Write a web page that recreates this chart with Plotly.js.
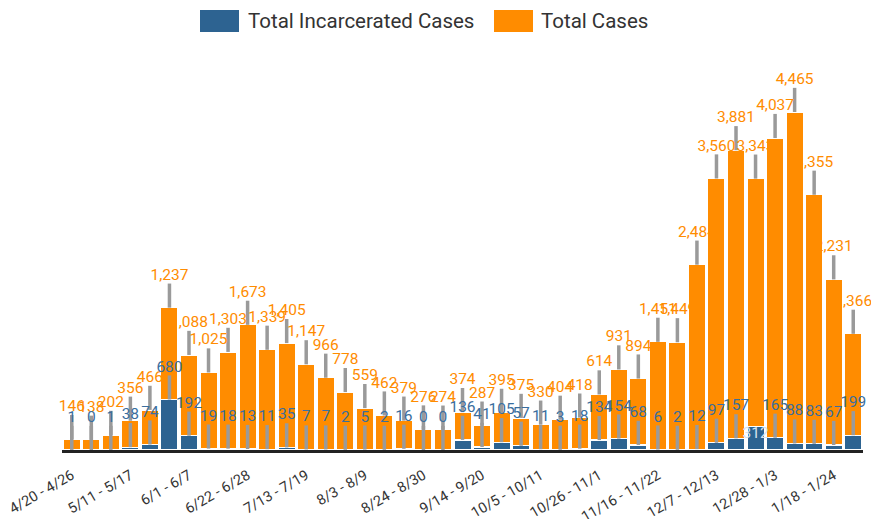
<!DOCTYPE html>
<html>
<head>
<meta charset="utf-8">
<script src="https://cdn.plot.ly/plotly-3.0.1.min.js"></script>
<style>
html,body{margin:0;padding:0;background:#fff;}
#chart{width:871px;height:519px;}
</style>
</head>
<body>
<div id="chart"></div>
<script>
const weeks = [
  "4/20 - 4/26","4/27 - 5/3","5/4 - 5/10","5/11 - 5/17","5/18 - 5/24","5/25 - 5/31",
  "6/1 - 6/7","6/8 - 6/14","6/15 - 6/21","6/22 - 6/28","6/29 - 7/5","7/6 - 7/12",
  "7/13 - 7/19","7/20 - 7/26","7/27 - 8/2","8/3 - 8/9","8/10 - 8/16","8/17 - 8/23",
  "8/24 - 8/30","8/31 - 9/6","9/7 - 9/13","9/14 - 9/20","9/21 - 9/27","9/28 - 10/4",
  "10/5 - 10/11","10/12 - 10/18","10/19 - 10/25","10/26 - 11/1","11/2 - 11/8","11/9 - 11/15",
  "11/16 - 11/22","11/23 - 11/29","11/30 - 12/6","12/7 - 12/13","12/14 - 12/20","12/21 - 12/27",
  "12/28 - 1/3","1/4 - 1/10","1/11 - 1/17","1/18 - 1/24","1/25 - 1/31"
];
const incarceratedCases = [
  1,0,1,38,74,680,192,19,18,13,11,35,7,7,2,5,2,16,0,0,
  136,41,105,57,11,3,18,134,154,68,6,2,12,97,157,312,165,88,83,67,199
];
const totalCases = [
  146,138,202,356,466,1237,1088,1025,1303,1673,1339,1405,1147,966,778,559,462,379,276,274,
  374,287,395,375,330,404,418,614,931,894,1451,1449,2484,3560,3881,3343,4037,4465,3355,2231,1366
];
const tickWeeks = weeks.filter((w, i) => i % 3 === 0);

const BLUE = '#2d6391';
const ORANGE = '#ff8c00';
const GREY = '#9a9a9a';
const ERR = 325;          // leader line length (data units)
const insideLabel = [35]; // blue label drawn inside its bar

const fmt = v => v.toLocaleString('en-US');
const stackTop = totalCases.map((v, i) => v + incarceratedCases[i]);
const blueErr = incarceratedCases.map((v, i) => insideLabel.includes(i) ? 0 : ERR);
const blueLabelY = incarceratedCases.map((v, i) => insideLabel.includes(i) ? v : v + ERR);
const blueLabelPos = incarceratedCases.map((v, i) => insideLabel.includes(i) ? 'bottom center' : 'top center');
const blueLabelColor = incarceratedCases.map((v, i) => insideLabel.includes(i) ? '#d7e3ef' : '#3a6e9e');

const font = 'Roboto, "Open Sans", sans-serif';

const traces = [
  {
    type: 'bar', name: 'Total Incarcerated Cases', x: weeks, y: incarceratedCases,
    marker: {color: BLUE, line: {color: '#fff', width: 1.2}}, hoverinfo: 'x+y'
  },
  {
    type: 'bar', name: 'Total Cases', x: weeks, y: totalCases,
    marker: {color: ORANGE, line: {color: '#fff', width: 1.2}}, hoverinfo: 'x+y'
  },
  {
    type: 'scatter', mode: 'markers', x: weeks, y: stackTop, showlegend: false, hoverinfo: 'skip',
    marker: {size: 1, opacity: 0},
    error_y: {type: 'constant', symmetric: false, value: ERR, valueminus: 0, color: GREY, thickness: 3.5, width: 0}
  },
  {
    type: 'scatter', mode: 'markers', x: weeks, y: incarceratedCases, showlegend: false, hoverinfo: 'skip',
    marker: {size: 1, opacity: 0},
    error_y: {type: 'data', symmetric: false, array: blueErr, arrayminus: incarceratedCases.map(() => 0), color: GREY, thickness: 3.5, width: 0}
  },
  {
    type: 'scatter', mode: 'text', x: weeks, y: stackTop.map(v => v + ERR), showlegend: false, hoverinfo: 'skip',
    text: totalCases.map(fmt), textposition: 'top center',
    textfont: {family: font, size: 15.5, color: ORANGE}, cliponaxis: false
  },
  {
    type: 'scatter', mode: 'text', x: weeks, y: blueLabelY, showlegend: false, hoverinfo: 'skip',
    text: incarceratedCases.map(fmt), textposition: blueLabelPos,
    textfont: {family: font, size: 15.5, color: blueLabelColor}, cliponaxis: false
  }
];

const layout = {
  width: 871, height: 519,
  margin: {l: 62, r: 8, t: 50, b: 69},
  paper_bgcolor: '#fff', plot_bgcolor: '#fff',
  barmode: 'stack', bargap: 0.12,
  showlegend: false,
  font: {family: font, color: '#333'},
  xaxis: {
    type: 'category', range: [-0.5, weeks.length - 0.5],
    tickvals: tickWeeks, ticktext: tickWeeks, tickangle: -30,
    tickfont: {family: font, size: 14.5, color: '#333'},
    ticks: 'outside', ticklen: 9, tickcolor: 'rgba(0,0,0,0)',
    showline: true, linecolor: '#222', linewidth: 2.5, showgrid: false,
    fixedrange: true, automargin: false
  },
  yaxis: {
    range: [0, 5388], showticklabels: false, showgrid: false, zeroline: false,
    showline: false, ticks: '', fixedrange: true
  },
  shapes: [
    {type: 'rect', xref: 'paper', yref: 'paper', x0: (200-62)/801, x1: (239-62)/801,
     y0: (519-69-32)/400, y1: (519-69-10)/400, fillcolor: BLUE, line: {width: 0}},
    {type: 'rect', xref: 'paper', yref: 'paper', x0: (494-62)/801, x1: (533-62)/801,
     y0: (519-69-32)/400, y1: (519-69-10)/400, fillcolor: ORANGE, line: {width: 0}}
  ],
  annotations: [
    {xref: 'paper', yref: 'paper', x: (246-62)/801, y: (519-69-21)/400, xanchor: 'left', yanchor: 'middle',
     text: 'Total Incarcerated Cases', showarrow: false, font: {family: font, size: 20.5, color: '#333'}},
    {xref: 'paper', yref: 'paper', x: (539-62)/801, y: (519-69-21)/400, xanchor: 'left', yanchor: 'middle',
     text: 'Total Cases', showarrow: false, font: {family: font, size: 20.5, color: '#333'}}
  ]
};

Plotly.newPlot('chart', traces, layout, {displayModeBar: false, staticPlot: true});
</script>
</body>
</html>
